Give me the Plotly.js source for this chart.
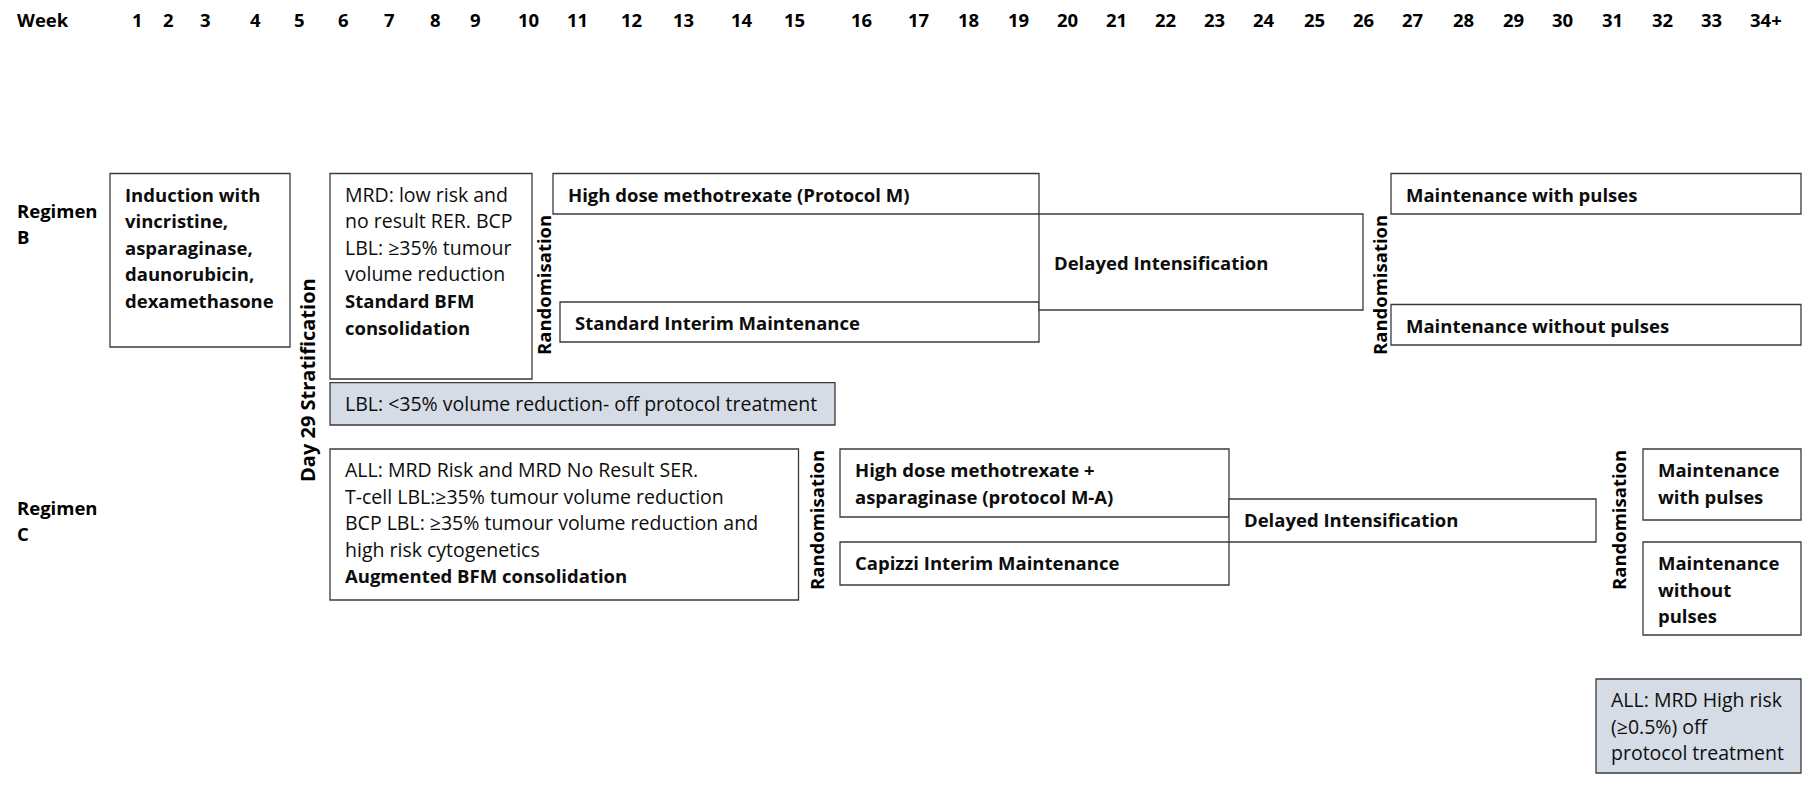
<!DOCTYPE html>
<html>
<head>
<meta charset="utf-8">
<script src="https://cdn.plot.ly/plotly-3.0.1.min.js"></script>
<style>html,body{margin:0;padding:0;background:#fff;}#chart{width:1802px;height:795px;}</style>
</head>
<body>
<div id="chart"></div>
<script>
// ---- Data (labels / text) ----
const weekTitle = 'Week';
const weekLabels = ['1','2','3','4','5','6','7','8','9','10','11','12','13','14','15','16','17','18','19','20','21','22','23','24','25','26','27','28','29','30','31','32','33','34+'];
const regimenLabels = [['Regimen','B'], ['Regimen','C']];
const stratLabel = 'Day 29 Stratification';
const randLabel = 'Randomisation';

// box text lines ("*" prefix = bold)
const boxLines = [
  ['*Induction with','*vincristine,','*asparaginase,','*daunorubicin,','*dexamethasone'],
  ['MRD: low risk and','no result RER. BCP','LBL: ≥35% tumour','volume reduction','*Standard BFM','*consolidation'],
  ['*High dose methotrexate (Protocol M)'],
  ['*Standard Interim Maintenance'],
  ['*Delayed Intensification'],
  ['*Maintenance with pulses'],
  ['*Maintenance without pulses'],
  ['LBL: <35% volume reduction- off protocol treatment'],
  ['ALL: MRD Risk and MRD No Result SER.','T-cell LBL:≥35% tumour volume reduction','BCP LBL: ≥35% tumour volume reduction and','high risk cytogenetics','*Augmented BFM consolidation'],
  ['*High dose methotrexate +','*asparaginase (protocol M-A)'],
  ['*Capizzi Interim Maintenance'],
  ['*Delayed Intensification'],
  ['*Maintenance','*with pulses'],
  ['*Maintenance','*without','*pulses'],
  ['ALL: MRD High risk','(≥0.5%) off','protocol treatment']
];
const boxOffProtocol = [false,false,false,false,false,false,false,true,false,false,false,false,false,false,true];

// ---- Layout geometry (diagram units) ----
const weekPos = [137,168,205,255,299,343,389,435,475,528,577,631,683,742,794,861,918,968,1018,1067,1116,1165,1214,1264,1314,1363,1412,1463,1513,1562,1612,1662,1711,1766];
const boxX0 = [110,330,553,560,1039,1391,1391,330,330,840,840,1229,1643,1643,1596];
const boxX1 = [290,532,1039,1039,1363,1801,1801,835,798.5,1229,1229,1596,1801,1801,1801];
const boxY0 = [173.5,173.5,173.5,302,214,173.5,304.5,382.6,449,449,542,499,449,542,679];
const boxY1 = [347,379,214,342,310,214,345,425,600,517,585,542,520,635,773];
const boxCentered = [false,false,false,false,true,false,false,false,false,false,false,false,false,false,false];
const randX = [543,1379,816,1618];
const randY = [285,285,520,520];

const FONT = '"Open Sans", Lato, sans-serif';
const FS = 18.5;      // bold text
const FS_REG = 19.5;  // regular text
const FS_STRAT = 20;
const LINE = 26.6;
const PAD_X = 13;
const PAD_TOP = 20.5;

const shapes = [];
const annotations = [];

// week header
annotations.push({x:15, y:19.5, xref:'x', yref:'y', text:'<b>'+weekTitle+'</b>', showarrow:false, xanchor:'left', yanchor:'middle', font:{family:FONT, size:FS, color:'#000'}});
weekLabels.forEach((w,i)=>{
  annotations.push({x:weekPos[i], y:19.5, xref:'x', yref:'y', text:'<b>'+w+'</b>', showarrow:false, xanchor:'center', yanchor:'middle', font:{family:FONT, size:FS, color:'#000'}});
});

// regimen labels
const regY = [210, 507];
regimenLabels.forEach((lines,i)=>{
  lines.forEach((t,j)=>{
    annotations.push({x:15, y:regY[i]+j*LINE, xref:'x', yref:'y', text:'<b>'+t+'</b>', showarrow:false, xanchor:'left', yanchor:'middle', font:{family:FONT, size:FS, color:'#000'}});
  });
});

// boxes
boxLines.forEach((lines,i)=>{
  shapes.push({type:'rect', xref:'x', yref:'y', x0:boxX0[i], x1:boxX1[i], y0:boxY0[i], y1:boxY1[i],
    line:{color:'#3b3b3b', width:1.3}, fillcolor: boxOffProtocol[i] ? '#d6dce5' : '#ffffff', layer:'below'});
  let start;
  if (boxCentered[i]) start = (boxY0[i]+boxY1[i])/2 - (lines.length-1)*LINE/2;
  else start = boxY0[i] + PAD_TOP;
  lines.forEach((t,j)=>{
    const bold = t.startsWith('*');
    const txt = bold ? '<b>'+t.slice(1)+'</b>' : t;
    annotations.push({x:boxX0[i]+PAD_X, y:start+j*LINE, xref:'x', yref:'y', text:txt, showarrow:false,
      xanchor:'left', yanchor:'middle', font:{family:FONT, size: bold ? FS : FS_REG, color:'#0d0d0d'}});
  });
});

// rotated labels
annotations.push({x:307, y:380, xref:'x', yref:'y', text:'<b>'+stratLabel+'</b>', textangle:-90, showarrow:false, xanchor:'center', yanchor:'middle', font:{family:FONT, size:FS_STRAT, color:'#000'}});
randX.forEach((x,i)=>{
  annotations.push({x:x, y:randY[i], xref:'x', yref:'y', text:'<b>'+randLabel+'</b>', textangle:-90, showarrow:false, xanchor:'center', yanchor:'middle', font:{family:FONT, size:FS, color:'#000'}});
});

const layout = {
  width:1802, height:795,
  margin:{l:0,r:0,t:0,b:0},
  paper_bgcolor:'#fff', plot_bgcolor:'#fff',
  xaxis:{range:[0,1802], visible:false, fixedrange:true},
  yaxis:{range:[795,0], visible:false, fixedrange:true},
  shapes:shapes, annotations:annotations, showlegend:false
};
Plotly.newPlot('chart', [{x:[0], y:[0], mode:'markers', marker:{opacity:0}, hoverinfo:'skip', showlegend:false}], layout, {staticPlot:true, displayModeBar:false});
</script>
</body>
</html>
